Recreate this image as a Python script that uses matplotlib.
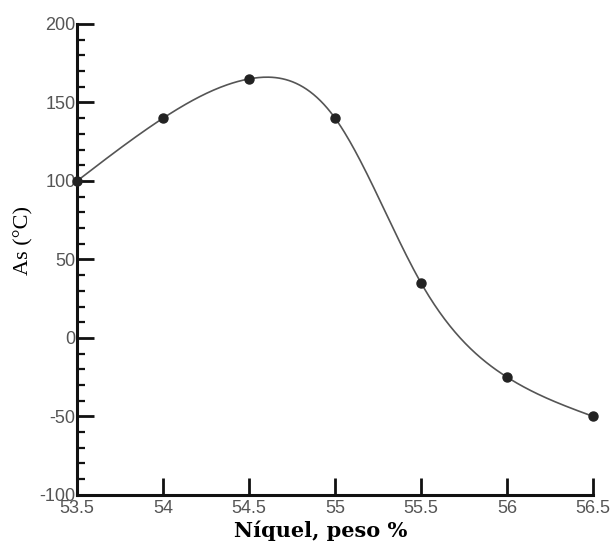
import numpy as np
import matplotlib
matplotlib.use("Agg")
import matplotlib.pyplot as plt
from matplotlib.ticker import MultipleLocator

plt.rcParams["axes.unicode_minus"] = False

# data
niquel = np.array([53.5, 54.0, 54.5, 55.0, 55.5, 56.0, 56.5])
as_temp = np.array([100, 140, 165, 140, 35, -25, -50])


def natural_spline(x, y, xs):
    # natural cubic spline through the points, for drawing the smooth line
    n = len(x)
    h = np.diff(x)
    A = np.zeros((n, n))
    b = np.zeros(n)
    A[0, 0] = 1
    A[-1, -1] = 1
    for i in range(1, n - 1):
        A[i, i - 1] = h[i - 1]
        A[i, i] = 2 * (h[i - 1] + h[i])
        A[i, i + 1] = h[i]
        b[i] = 3 * ((y[i + 1] - y[i]) / h[i] - (y[i] - y[i - 1]) / h[i - 1])
    c = np.linalg.solve(A, b)
    out = np.empty_like(xs)
    for k, xv in enumerate(xs):
        i = min(max(np.searchsorted(x, xv) - 1, 0), n - 2)
        bi = (y[i + 1] - y[i]) / h[i] - h[i] * (2 * c[i] + c[i + 1]) / 3
        di = (c[i + 1] - c[i]) / (3 * h[i])
        t = xv - x[i]
        out[k] = y[i] + bi * t + c[i] * t ** 2 + di * t ** 3
    return out


fig = plt.figure(figsize=(6.12, 5.45), dpi=100)
ax = fig.add_axes([0.126, 0.092, 0.843, 0.864])

xs = np.linspace(niquel.min(), niquel.max(), 300)
ax.plot(xs, natural_spline(niquel, as_temp, xs), color="#555555", lw=1.2)
ax.plot(niquel, as_temp, "o", color="#222222", ms=6.5, clip_on=False, zorder=3)

ax.set_xlim(53.5, 56.5)
ax.set_ylim(-100, 200)
ax.yaxis.set_major_locator(MultipleLocator(50))
ax.yaxis.set_minor_locator(MultipleLocator(10))
ax.set_xticks([53.5, 54, 54.5, 55, 55.5, 56, 56.5])
ax.set_xticklabels(["53.5", "54", "54.5", "55", "55.5", "56", "56.5"])

for s in ["top", "right"]:
    ax.spines[s].set_visible(False)
for s in ["left", "bottom"]:
    ax.spines[s].set_linewidth(2.2)
    ax.spines[s].set_color("#111111")

ax.tick_params(which="major", direction="in", length=12, width=2, color="#111111",
               labelsize=13, labelcolor="#555555", pad=1)
ax.tick_params(axis="x", which="major", pad=4)
ax.tick_params(which="minor", direction="in", length=6, width=1.6, color="#111111")
for lab in ax.get_xticklabels() + ax.get_yticklabels():
    lab.set_fontfamily("Liberation Sans")

ax.set_xlabel("Níquel, peso %", fontfamily="DejaVu Serif", fontweight="bold",
              fontsize=15)
ax.xaxis.set_label_coords(0.473, -0.055)
ax.set_ylabel("As (°C)", fontfamily="Liberation Serif", fontsize=16)
ax.yaxis.set_label_coords(-0.085, 0.54)

fig.savefig("out.png", dpi=100)
